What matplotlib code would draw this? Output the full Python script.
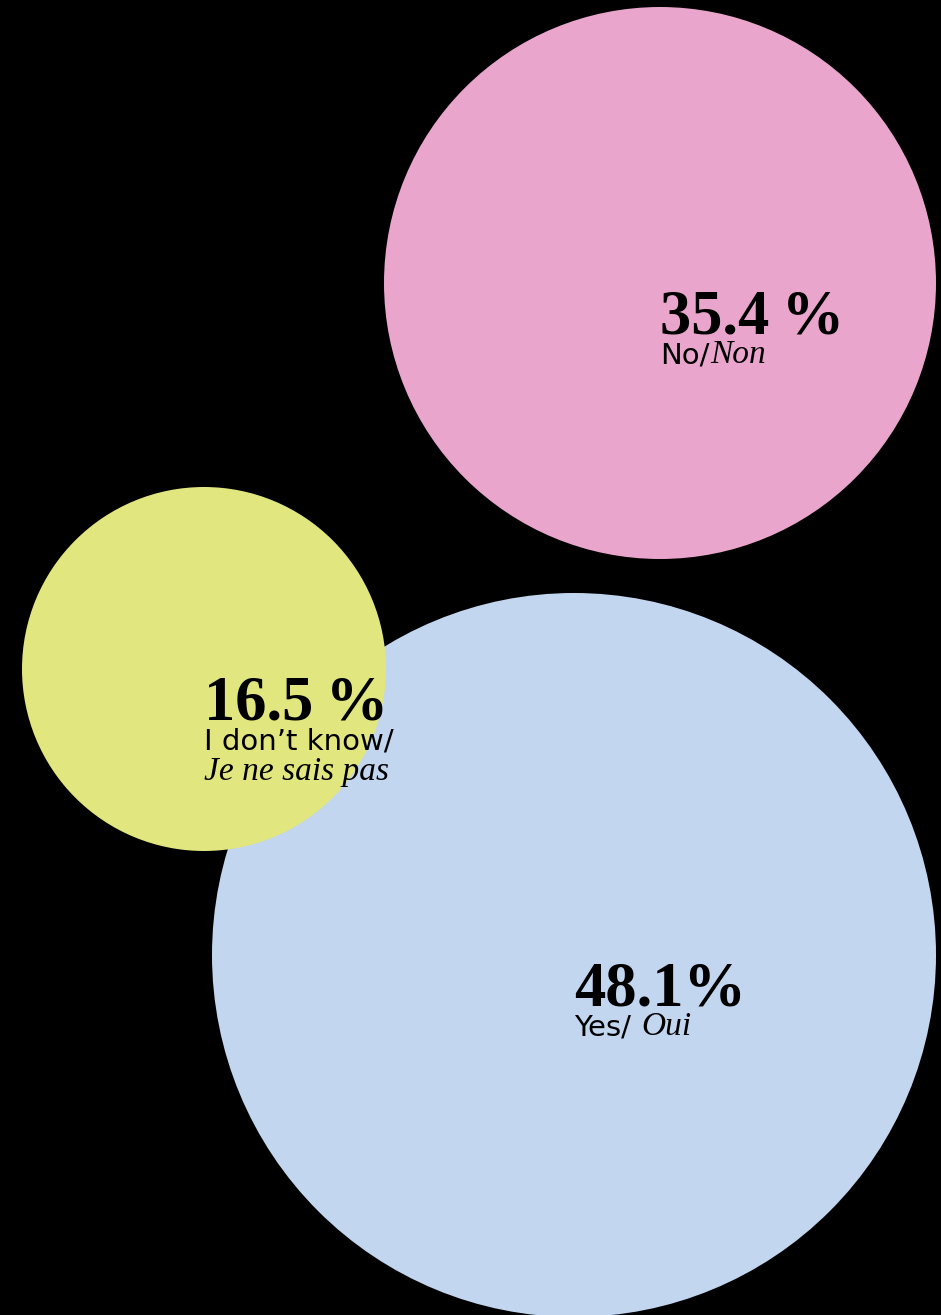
import matplotlib
matplotlib.use('Agg')
import matplotlib.pyplot as plt
from matplotlib.patches import Circle

# data
answers_en = ['No/', 'I don\u2019t know/', 'Yes/ ']
answers_fr = ['Non', 'Je ne sais pas', 'Oui']
shares = [35.4, 16.5, 48.1]
pct_sep = ['\u2009', '\u2009', '']
colors = ['#E9A5CB', '#E1E67F', '#C2D6EF']

# layout (pixel space), drawing order: pink, blue, yellow
centers = [(660, 283), (204, 669), (574, 955)]
radii = [276, 182, 362]
order = [0, 2, 1]

W, H = 941, 1315
fig = plt.figure(figsize=(W / 100, H / 100), dpi=100, facecolor='black')
ax = fig.add_axes([0, 0, 1, 1])
ax.set_xlim(0, W)
ax.set_ylim(H, 0)
ax.set_aspect('equal')
ax.axis('off')
ax.set_facecolor('black')

for i in order:
    ax.add_patch(Circle(centers[i], radii[i], color=colors[i], lw=0))

renderer = fig.canvas.get_renderer()
sans = 'DejaVu Sans'
serif = 'Liberation Serif'

for i in order:
    cx, cy = centers[i]
    pct = '%.1f' % shares[i] + pct_sep[i] + '%'
    ax.text(cx, cy + 50, pct, fontfamily=serif, fontweight='bold', fontsize=45,
            ha='left', va='baseline', color='black')
    base = cy + 80
    t = ax.text(cx, base, answers_en[i], fontfamily=sans, fontsize=21,
                ha='left', va='baseline', color='black')
    if i == 1:
        ax.text(cx, base + 31, answers_fr[i], fontfamily=serif, style='italic',
                fontsize=24, ha='left', va='baseline', color='black')
    else:
        bb = t.get_window_extent(renderer=renderer)
        x_end = ax.transData.inverted().transform((bb.x1, bb.y0))[0]
        ax.text(x_end + 1, base, answers_fr[i], fontfamily=serif, style='italic',
                fontsize=24, ha='left', va='baseline', color='black')

fig.savefig('out.png', dpi=100, facecolor='black')
